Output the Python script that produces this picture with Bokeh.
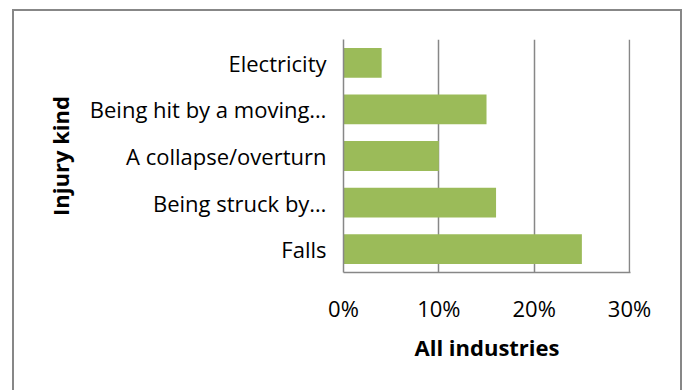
from bokeh.plotting import figure
from bokeh.models import ColumnDataSource, FixedTicker, Range1d
from bokeh.embed import file_html
from bokeh.resources import INLINE

# ---- data ----
categories = ["Falls", "Being struck by…", "A collapse/overturn",
              "Being hit by a moving…", "Electricity"]
shares = [25, 16, 10, 15, 4]          # percent
x_ticks = [0, 10, 20, 30]
tick_labels = ["0%", "10%", "20%", "30%"]
x_title = "All industries"
y_title = "Injury kind"

FONT = "Open Sans"
FSIZE = "22px"
GRAY = "#878787"
GREEN = "#9BBB59"

src = ColumnDataSource(dict(cat=categories, val=shares))

p = figure(width=666, height=379, y_range=categories, x_range=Range1d(0, 30.1),
           output_backend="svg", toolbar_location=None,
           min_border_left=329, min_border_right=50,
           min_border_top=28, min_border_bottom=118)
p.margin = (11, 0, 0, 14)
p.styles = {"outline": "2px solid " + GRAY}
p.outline_line_color = None
p.background_fill_color = "white"
p.border_fill_color = "white"

p.hbar(y="cat", right="val", height=0.64, left=0, source=src,
       fill_color=GREEN, line_color=None)

# grid
p.ygrid.visible = False
p.xgrid.ticker = FixedTicker(ticks=x_ticks[1:])
p.xgrid.grid_line_color = GRAY
p.xgrid.grid_line_width = 1.5

# x axis
xa = p.xaxis[0]
xa.ticker = FixedTicker(ticks=x_ticks)
xa.major_label_overrides = dict(zip(x_ticks, tick_labels))
xa.axis_line_color = GRAY
xa.axis_line_width = 1.5
xa.major_tick_in = 0
xa.major_tick_out = 0
xa.minor_tick_in = 0
xa.minor_tick_out = 0
xa.major_label_standoff = 20
xa.major_label_text_font = FONT
xa.major_label_text_font_size = FSIZE
xa.major_label_text_color = "black"
xa.axis_label = x_title
xa.axis_label_text_font = FONT
xa.axis_label_text_font_size = FSIZE
xa.axis_label_text_font_style = "bold"
xa.axis_label_text_color = "black"
xa.axis_label_standoff = 6

# y axis
ya = p.yaxis[0]
ya.axis_line_color = GRAY
ya.axis_line_width = 1.5
ya.major_tick_in = 0
ya.major_tick_out = 0
ya.major_label_standoff = 17
ya.major_label_text_font = FONT
ya.major_label_text_font_size = FSIZE
ya.major_label_text_color = "black"
ya.axis_label = y_title
ya.axis_label_text_font = FONT
ya.axis_label_text_font_size = FSIZE
ya.axis_label_text_font_style = "bold"
ya.axis_label_text_color = "black"
ya.axis_label_standoff = 12

open("out.html", "w").write(file_html(p, INLINE))
